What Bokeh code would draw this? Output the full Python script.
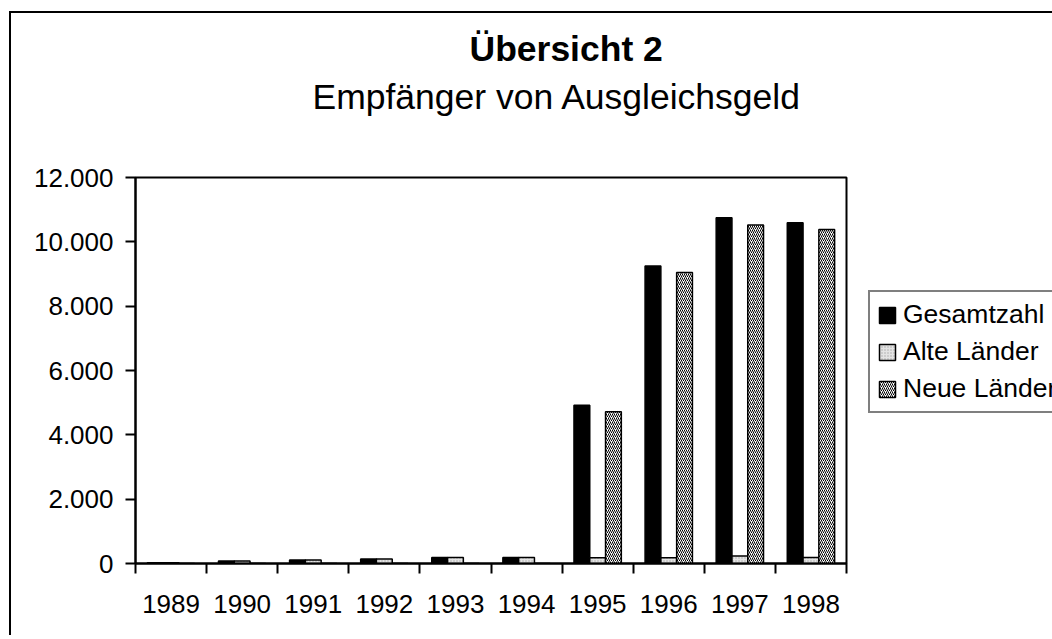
from bokeh.plotting import figure
from bokeh.models import (Range1d, FixedTicker, LinearAxis, Legend, LegendItem,
                          Title, ColumnDataSource)
from bokeh.embed import file_html
from bokeh.resources import INLINE

# ---- data ----
years = ["1989", "1990", "1991", "1992", "1993", "1994", "1995", "1996", "1997", "1998"]
gesamt = [25, 80, 110, 140, 185, 190, 4920, 9250, 10750, 10590]
alte = [25, 80, 110, 140, 185, 190, 180, 180, 230, 190]
neue = [0, 0, 0, 0, 0, 0, 4720, 9050, 10520, 10380]
series_names = ["Gesamtzahl", "Alte Länder", "Neue Länder"]
y_ticks = [0, 2000, 4000, 6000, 8000, 10000, 12000]

FONT = "Liberation Sans"

centers = [i + 0.5 for i in range(len(years))]
bounds = [float(i) for i in range(len(years) + 1)]
bw = 0.222

src = ColumnDataSource(dict(
    xg=[c - bw for c in centers],
    xa=centers,
    xn=[c + bw for c in centers],
    gesamt=gesamt, alte=alte, neue=neue,
))

p = figure(frame_width=711, frame_height=386,
           min_border_left=124, min_border_right=200,
           min_border_top=164, min_border_bottom=72,
           x_range=Range1d(0, len(years)), y_range=Range1d(0, 12000),
           output_backend="svg", toolbar_location=None, tools="",
           x_axis_type=None, y_axis_type=None, title=None)
p.background_fill_color = "white"
p.border_fill_color = "white"
p.outline_line_color = "black"
p.outline_line_width = 2
p.margin = (11, 0, 0, 9)
p.styles = {"border-left": "2.5px solid black", "border-top": "2.5px solid black"}

# y axis
yax = LinearAxis(ticker=FixedTicker(ticks=y_ticks, minor_ticks=[]))
yax.major_label_overrides = {t: f"{t:,}".replace(",", ".") for t in y_ticks}
yax.axis_line_width = 2
yax.major_tick_line_width = 2
yax.major_tick_out = 10
yax.major_tick_in = 0
yax.minor_tick_out = 0
yax.minor_tick_in = 0
yax.major_label_standoff = 12
yax.major_label_text_font = FONT
yax.major_label_text_font_size = "26px"
yax.major_label_text_color = "black"
p.add_layout(yax, "left")

# x axis
xax = LinearAxis(ticker=FixedTicker(ticks=centers, minor_ticks=bounds))
xax.major_label_overrides = {c: y for c, y in zip(centers, years)}
xax.axis_line_width = 2
xax.major_tick_out = 0
xax.major_tick_in = 0
xax.minor_tick_out = 10
xax.minor_tick_in = 0
xax.minor_tick_line_width = 2
xax.minor_tick_line_color = "black"
xax.major_label_standoff = 21
xax.major_label_text_font = FONT
xax.major_label_text_font_size = "26px"
xax.major_label_text_color = "black"
p.add_layout(xax, "below")

# grid
p.ygrid.ticker = FixedTicker(ticks=y_ticks, minor_ticks=[])
p.ygrid.grid_line_color = "black"
p.ygrid.grid_line_width = 2
p.xgrid.grid_line_color = None

r1 = p.vbar(x="xg", top="gesamt", width=bw, source=src,
            fill_color="black", line_color="black", line_width=1.5)
r2 = p.vbar(x="xa", top="alte", width=bw, source=src,
            fill_color="#e4e4e4", line_color="black", line_width=1.5,
            hatch_pattern="dot", hatch_color="#a8a8a8", hatch_scale=3, hatch_weight=1)
r3 = p.vbar(x="xn", top="neue", width=bw, source=src,
            fill_color="white", line_color="black", line_width=1.5,
            hatch_pattern="right_diagonal_line", hatch_color="black",
            hatch_scale=4, hatch_weight=1)

legend = Legend(items=[LegendItem(label=series_names[0], renderers=[r1]),
                       LegendItem(label=series_names[1], renderers=[r2]),
                       LegendItem(label=series_names[2], renderers=[r3])],
                location=(22, 150))
legend.border_line_color = "black"
legend.border_line_width = 2
legend.background_fill_color = "white"
legend.background_fill_alpha = 1
legend.label_text_font = FONT
legend.label_text_font_size = "26.5px"
legend.label_text_color = "black"
legend.glyph_width = 20
legend.glyph_height = 20
legend.label_height = 28
legend.spacing = 6
legend.padding = 7
legend.margin = 0
legend.label_standoff = 6
p.add_layout(legend, "right")

# titles (spacer first -> closest to the frame, then subtitle, then main)
p.add_layout(Title(text=" ", text_font_size="1px", standoff=51), "above")
p.add_layout(Title(text="Empfänger von Ausgleichsgeld", align="left", offset=177,
                   text_font=FONT, text_font_size="35.5px", text_font_style="normal",
                   text_color="black", standoff=13), "above")
p.add_layout(Title(text="Übersicht 2", align="left", offset=334,
                   text_font=FONT, text_font_size="35.5px", text_font_style="bold",
                   text_color="black", standoff=0), "above")

open("out.html", "w").write(file_html(p, INLINE))
